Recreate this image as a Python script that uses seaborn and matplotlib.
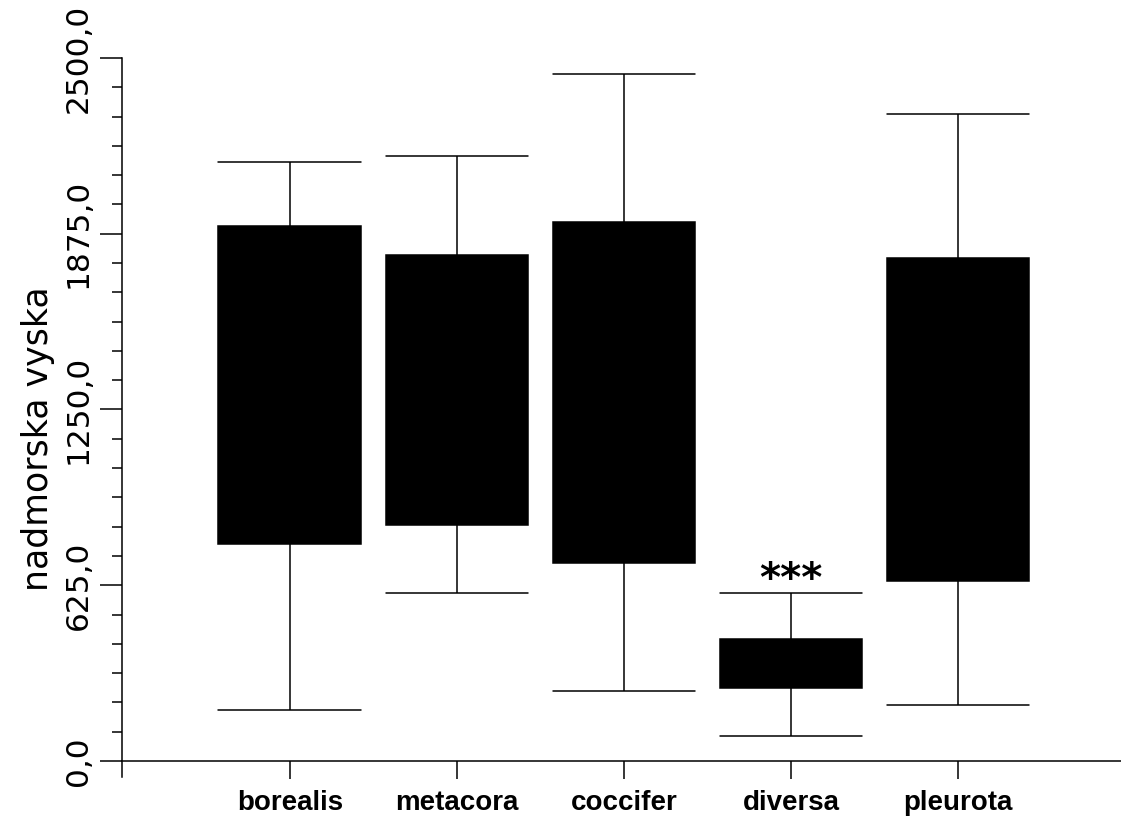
import numpy as np
import pandas as pd
import matplotlib
matplotlib.use("Agg")
import matplotlib.pyplot as plt
from matplotlib.ticker import FixedLocator, MultipleLocator
import seaborn as sns

# Five-number summaries (altitude, m) per species
categories = ["borealis", "metacora", "coccifer", "diversa", "pleurota"]
whisker_low = [181, 597, 249, 89, 200]
q1 = [772, 839, 704, 261, 639]
median = [1350, 1320, 1300, 350, 1200]
q3 = [1903, 1799, 1917, 434, 1789]
whisker_high = [2131, 2153, 2442, 596, 2301]

y_ticks = [0, 625, 1250, 1875, 2500]
y_tick_labels = ["0,0", "625,0", "1250,0", "1875,0", "2500,0"]
y_label = "nadmorska vyska"
significance = "***"
significant_group = "diversa"

# Long-form table: five values per group reproduce the summary exactly
rows = []
for i, name in enumerate(categories):
    for v in (whisker_low[i], q1[i], median[i], q3[i], whisker_high[i]):
        rows.append({"species": name, "alt": v})
df = pd.DataFrame(rows)

sns.set_theme(style="white")
plt.rcParams["font.family"] = ["Liberation Sans", "DejaVu Sans"]
plt.rcParams["text.color"] = "black"
plt.rcParams["axes.labelcolor"] = "black"
plt.rcParams["xtick.color"] = "black"
plt.rcParams["ytick.color"] = "black"

fig = plt.figure(figsize=(11.21, 8.18), dpi=100)
ax = fig.add_axes([0.1088, 0.0501, 0.8912, 0.879])

box_w = 0.856
sns.boxplot(
    data=df, x="species", y="alt", order=categories, ax=ax,
    whis=(0, 100), width=box_w, color="black", linecolor="black",
    linewidth=1.1, fliersize=0, saturation=1, capwidths=box_w,
)

ax.set_xlim(-1.006, 4.976)
ax.set_ylim(-57, 2500)

# Axis styling
for side in ("top", "right"):
    ax.spines[side].set_visible(False)
ax.spines["bottom"].set_position(("data", 0))
for side in ("left", "bottom"):
    ax.spines[side].set_color("black")
    ax.spines[side].set_linewidth(1.1)

ax.yaxis.set_major_locator(FixedLocator(y_ticks))
ax.yaxis.set_minor_locator(MultipleLocator(625 / 6))
ax.set_yticklabels(y_tick_labels, rotation=90, va="center",
                   fontsize=22.5, family="DejaVu Sans", color="black")
ax.tick_params(axis="y", which="major", length=16, width=1.1, color="black",
               labelcolor="black", direction="out", pad=5, left=True)
ax.tick_params(axis="y", which="minor", length=7, width=1.1, color="black",
               direction="out", left=True)
ax.tick_params(axis="x", which="major", length=13, width=1.1, color="black",
               labelcolor="black", direction="out", pad=8, bottom=True)
for lab in ax.get_xticklabels():
    lab.set_fontsize(20)
    lab.set_fontweight("bold")
    lab.set_color("black")

ax.set_xlabel("")
ax.set_ylabel(y_label, fontsize=25, family="DejaVu Sans", color="black")
ax.yaxis.set_label_coords(-0.067, 0.47)

# Significance mark above the low-altitude group
gi = categories.index(significant_group)
ax.text(gi, whisker_high[gi] + 10, significance, ha="center", va="baseline",
        fontsize=29, fontweight="bold", family="DejaVu Sans", color="black")

fig.savefig("out.png", dpi=100, facecolor="white")
